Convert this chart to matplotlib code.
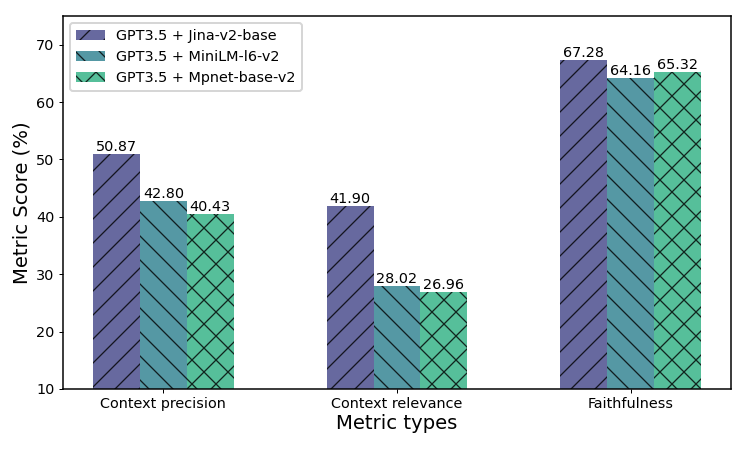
import matplotlib
matplotlib.use("Agg")
import matplotlib.pyplot as plt
import numpy as np

categories = ["Context precision", "Context relevance", "Faithfulness"]
series_names = ["GPT3.5 + Jina-v2-base", "GPT3.5 + MiniLM-l6-v2", "GPT3.5 + Mpnet-base-v2"]
jina = [50.87, 41.90, 67.28]
minilm = [42.80, 28.02, 64.16]
mpnet = [40.43, 26.96, 65.32]
series_values = [jina, minilm, mpnet]
colors = ["#414487", "#2a7e8d", "#2cb081"]
hatches = ["//", "\\\\", "xx"]

DPI = 144
plt.rcParams["hatch.linewidth"] = 0.65
plt.rcParams["axes.linewidth"] = 0.75
small = 7.2
big = 9.8

fig = plt.figure(figsize=(747 / DPI, 449 / DPI), dpi=DPI)
ax = fig.add_axes([63/747, 1-389/449, (731-63)/747, (389-16)/449])

x = np.arange(len(categories))
width = 0.2
for i, (name, vals) in enumerate(zip(series_names, series_values)):
    bars = ax.bar(x + (i - 1) * width, vals, width, label=name, color=colors[i],
                  alpha=0.8, hatch=hatches[i], edgecolor="black", linewidth=0)
    for b, v in zip(bars, vals):
        ax.text(b.get_x() + b.get_width() / 2, v, f"{v:.2f}", ha="center", va="bottom", fontsize=small)

ax.set_ylim(10, 75)
ax.set_xticks(x)
ax.set_xticklabels(categories)
ax.tick_params(axis="both", labelsize=small, length=2, width=0.5, pad=2.2)
ax.set_xlabel("Metric types", fontsize=big, labelpad=1.5)
ax.set_ylabel("Metric Score (%)", fontsize=big, labelpad=2.5)
ax.legend(loc="upper left", fontsize=small)

fig.savefig("out.png", dpi=DPI)
